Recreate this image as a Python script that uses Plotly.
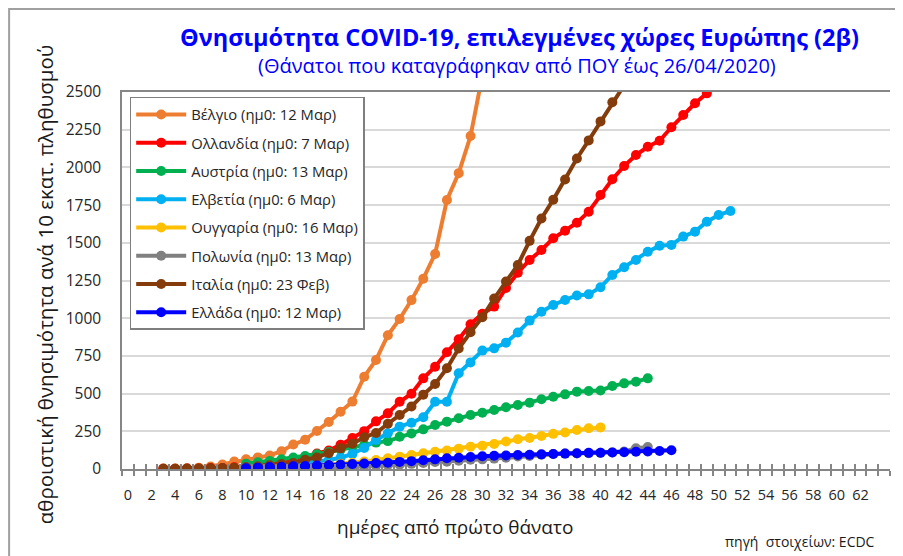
import plotly.graph_objects as go

# ---------------- data (cumulative deaths per 10 million, by day) ----------------
countries = ["Βέλγιο (ημ0: 12 Μαρ)", "Ολλανδία (ημ0: 7 Μαρ)", "Αυστρία (ημ0: 13 Μαρ)",
             "Ελβετία (ημ0: 6 Μαρ)", "Ουγγαρία (ημ0: 16 Μαρ)", "Πολωνία (ημ0: 13 Μαρ)",
             "Ιταλία (ημ0: 23 Φεβ)", "Ελλάδα (ημ0: 12 Μαρ)"]
colors = ["#ED7D31", "#FF0000", "#00B050", "#00B0F0", "#FFC000", "#808080", "#843C0C", "#0000FF"]

belgium_start = 3
belgium = [3, 3, 4, 9, 16, 30, 50, 64, 77, 90, 118, 162, 194, 252, 312, 380, 447, 612, 723,
           887, 995, 1120, 1262, 1426, 1784, 1962, 2208, 2610]

netherlands_start = 3
netherlands = [2, 2, 3, 3, 6, 7, 12, 14, 25, 34, 44, 61, 79, 103, 123, 160, 206, 251, 316, 369,
               446, 499, 601, 678, 774, 860, 960, 1030, 1077, 1200, 1302, 1386, 1452, 1530,
               1580, 1633, 1706, 1817, 1921, 2009, 2082, 2137, 2177, 2266, 2347, 2425, 2491]

austria_start = 10
austria = [35, 45, 53, 64, 76, 86, 98, 112, 128, 145, 160, 175, 185, 214, 236, 263, 292, 314,
           336, 358, 373, 391, 409, 424, 440, 462, 479, 495, 513, 517, 521, 550, 568, 579, 601]

switzerland_start = 10
switzerland = [15, 16, 20, 25, 32, 40, 50, 60, 75, 100, 140, 192, 237, 281, 307, 343, 446, 446,
               635, 707, 785, 800, 838, 905, 984, 1043, 1088, 1121, 1150, 1158, 1205, 1287,
               1338, 1386, 1441, 1481, 1486, 1541, 1574, 1640, 1684, 1711]

hungary_start = 10
hungary = [10, 11, 13, 15, 17, 20, 24, 29, 35, 42, 50, 60, 71, 82, 93, 104, 114, 122, 135, 147,
           155, 166, 182, 197, 206, 219, 233, 242, 259, 270, 276]

poland_start = 10
poland = [3, 4, 5, 5, 6, 8, 8, 9, 11, 15, 19, 21, 25, 28, 34, 40, 46, 48, 55, 61, 64, 69, 75,
          83, 87, 95, 100, 102, 103, 105, 107, 110, 116, 138, 146]

italy_start = 3
italy = [2, 2, 3, 4, 5, 6, 9, 13, 18, 25, 33, 39, 61, 77, 105, 137, 168, 210, 239, 300, 358,
         415, 493, 564, 668, 799, 907, 1007, 1130, 1243, 1353, 1513, 1661, 1786, 1920, 2059,
         2179, 2305, 2432, 2545, 2632]

greece_start = 10
greece = [5, 9, 13, 15, 18, 20, 24, 27, 30, 33, 36, 39, 42, 47, 52, 58, 64, 71, 75, 80, 84, 88,
          90, 93, 95, 97, 100, 102, 105, 107, 108, 109, 111, 114, 116, 119, 124]

series = [(belgium_start, belgium), (netherlands_start, netherlands), (austria_start, austria),
          (switzerland_start, switzerland), (hungary_start, hungary), (poland_start, poland),
          (italy_start, italy), (greece_start, greece)]

x_tick_values = list(range(0, 63, 2))
y_tick_values = list(range(0, 2501, 250))

FONT = "Open Sans, Noto Sans, DejaVu Sans, sans-serif"

fig = go.Figure()
for i, (name, col, (start, vals)) in enumerate(zip(countries, colors, series)):
    fig.add_trace(go.Scatter(
        x=list(range(start, start + len(vals))), y=vals, name=name,
        mode="lines+markers", legendgroup=f"g{i}",
        line=dict(color=col, width=4),
        marker=dict(color=col, size=10, symbol="circle"),
    ))

# helper overlay axis for the inner half of the crossing tick marks
fig.add_trace(go.Scatter(x=[None], y=[None], xaxis="x2", showlegend=False, hoverinfo="skip"))

half_ticks = [i + 0.5 for i in range(-1, 65)]

fig.update_layout(
    width=895, height=548,
    margin=dict(l=114, r=13, t=84, b=87),
    paper_bgcolor="white", plot_bgcolor="white",
    font=dict(family=FONT, color="#262626"),
    showlegend=True,
    legend=dict(
        x=0.01, y=0.987, xanchor="left", yanchor="top",
        bgcolor="white", bordercolor="#7f7f7f", borderwidth=1.5,
        font=dict(family=FONT, size=14.8, color="#262626"),
        tracegroupgap=6, itemwidth=50, traceorder="grouped",
    ),
    xaxis=dict(
        range=[-0.5, 64.5], tickmode="array", tickvals=x_tick_values,
        ticktext=[str(v) for v in x_tick_values],
        ticks="", showgrid=False, zeroline=False,
        showline=True, linecolor="#868686", linewidth=1.5, mirror=True,
        tickfont=dict(family=FONT, size=14.5, color="#262626"),
        ticklabelstandoff=12,
        minor=dict(tickmode="array", tickvals=half_ticks, ticks="outside",
                   ticklen=5, tickcolor="#868686", tickwidth=1.5, showgrid=False),
    ),
    xaxis2=dict(
        overlaying="x", matches="x", anchor="y", side="bottom",
        showticklabels=False, showgrid=False, zeroline=False, showline=False,
        tickmode="array", tickvals=half_ticks, ticks="inside", ticklen=5,
        tickcolor="#868686", tickwidth=1.5,
    ),
    yaxis=dict(
        range=[0, 2500], tickmode="array", tickvals=y_tick_values,
        showgrid=True, gridcolor="#d9d9d9", gridwidth=1.5, zeroline=False,
        showline=True, linecolor="#868686", linewidth=1.5,
        ticks="", ticklabelstandoff=16,
        tickfont=dict(family=FONT, size=15.5, color="#262626"),
    ),
    annotations=[
        dict(text="<b>Θνησιμότητα COVID-19, επιλεγμένες χώρες Ευρώπης (2β)</b>",
             xref="paper", yref="paper", x=0.518, y=1.146, xanchor="center", yanchor="middle",
             showarrow=False, font=dict(family=FONT, size=23.5, color="#0000FF")),
        dict(text="(Θάνατοι που καταγράφηκαν από ΠΟΥ έως 26/04/2020)",
             xref="paper", yref="paper", x=0.514, y=1.069, xanchor="center", yanchor="middle",
             showarrow=False, font=dict(family=FONT, size=20, color="#0000FF")),
        dict(text="αθροιστική θνησιμότητα ανά 10 εκατ. πληθυσμού", textangle=-90,
             xref="paper", yref="paper", x=-0.1003, y=0.49, xanchor="center", yanchor="middle",
             showarrow=False, font=dict(family=FONT, size=20.5, color="#1a1a1a")),
        dict(text="ημέρες από πρώτο θάνατο",
             xref="paper", yref="paper", x=0.4336, y=-0.154, xanchor="center", yanchor="middle",
             showarrow=False, font=dict(family=FONT, size=19, color="#1a1a1a")),
        dict(text="πηγή  στοιχείων: ECDC",
             xref="paper", yref="paper", x=0.983, y=-0.191, xanchor="right", yanchor="middle",
             showarrow=False, font=dict(family=FONT, size=14, color="#1a1a1a")),
    ],
    shapes=[
        dict(type="rect", xref="paper", yref="paper", x0=-0.147, x1=1.03, y0=-0.26, y1=1.22,
             line=dict(color="#a0a0a0", width=2), fillcolor="rgba(0,0,0,0)", layer="below"),
    ],
)

fig.write_html("out.html")
